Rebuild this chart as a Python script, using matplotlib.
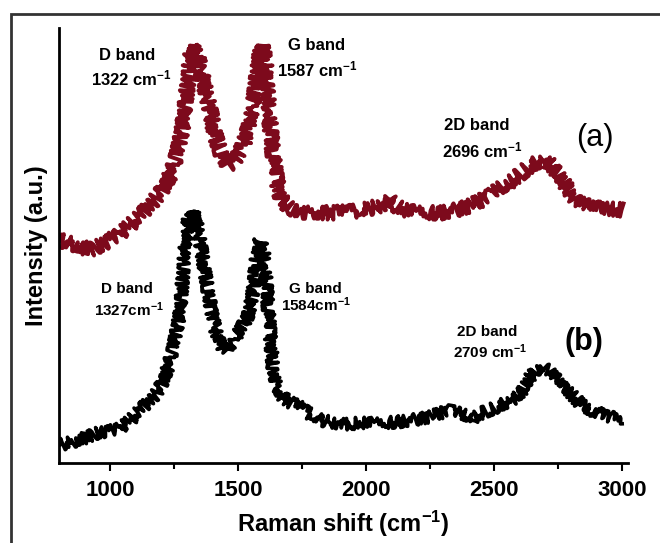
import numpy as np
import matplotlib
matplotlib.use("Agg")
import matplotlib.pyplot as plt
from matplotlib.patches import Rectangle

plt.rcParams['font.family'] = ['Liberation Sans', 'DejaVu Sans']
plt.rcParams['mathtext.fontset'] = 'custom'
plt.rcParams['mathtext.rm'] = 'Liberation Sans'
plt.rcParams['mathtext.bf'] = 'Liberation Sans:bold'
plt.rcParams['mathtext.default'] = 'bf'

# spectrum (a)
shift_a = [800, 840, 880, 920, 940, 970, 1000, 1040, 1078, 1120, 1155, 1190, 1214, 1235,
           1253, 1270, 1280, 1292, 1304, 1315, 1323, 1335, 1350, 1370, 1390, 1405, 1421,
           1440, 1460, 1480, 1500, 1520, 1538, 1552, 1566, 1580, 1593, 1605, 1616, 1630,
           1644, 1660, 1671, 1700, 1741, 1800, 1858, 1920, 1988, 2050, 2093, 2110, 2144,
           2200, 2288, 2350, 2405, 2450, 2483, 2530, 2573, 2610, 2640, 2670, 2690, 2710,
           2745, 2770, 2796, 2820, 2847, 2900, 2950, 3003]
int_a = [223, 220, 217, 213, 215, 219, 223, 230, 238, 248, 258, 268, 278, 288,
         301, 318, 333, 358, 383, 408, 418, 413, 398, 375, 353, 333, 318,
         305, 298, 301, 308, 318, 333, 353, 373, 403, 418, 403, 363, 323,
         293, 271, 263, 255, 251, 251, 250, 251, 253, 257, 263, 258, 253,
         251, 250, 253, 257, 263, 268, 276, 283, 291, 297, 301, 303, 301,
         291, 281, 271, 263, 258, 255, 254, 253]

# spectrum (b)
shift_b = [800, 850, 900, 960, 1000, 1038, 1080, 1116, 1150, 1182, 1205, 1222, 1245, 1260,
           1273, 1285, 1295, 1305, 1320, 1335, 1350, 1365, 1378, 1395, 1417, 1436, 1456,
           1480, 1507, 1525, 1538, 1550, 1558, 1570, 1584, 1598, 1612, 1625, 1636, 1655,
           1675, 1700, 1741, 1780, 1820, 1858, 1920, 1988, 2050, 2120, 2180, 2249, 2290,
           2327, 2370, 2417, 2460, 2511, 2550, 2589, 2615, 2640, 2665, 2690, 2710, 2745,
           2770, 2796, 2830, 2874, 2940, 3003]
int_b = [18, 21, 25, 31, 32, 35, 43, 53, 61, 70, 81, 93, 113, 133,
         153, 193, 223, 243, 253, 243, 223, 198, 178, 153, 126, 116, 113,
         123, 133, 141, 146, 163, 173, 203, 223, 213, 173, 128, 93, 75,
         66, 61, 56, 49, 43, 41, 39, 40, 40, 41, 43, 46, 50,
         53, 49, 45, 51, 56, 61, 66, 75, 86, 93, 96, 93, 83,
         75, 70, 61, 53, 47, 43]

fig = plt.figure(figsize=(6.6, 5.43), dpi=100)
# outer frame
fig.add_artist(Rectangle((11 / 660, -0.05), 1.1, 1 - 14 / 543 + 0.05, transform=fig.transFigure,
                         fill=False, lw=2, ec='#333333'))

ax = fig.add_axes([59 / 660, 1 - 463 / 543, (628 - 59) / 660, (463 - 28) / 543])
la, = ax.plot(shift_a, int_a, color='#7d0a1c', lw=2.8, solid_joinstyle='round')
lb, = ax.plot(shift_b, int_b, color='black', lw=2.6, solid_joinstyle='round')
# jagged rendering to mimic the detector noise
la.set_sketch_params(scale=7, length=0.4, randomness=1.5)
lb.set_sketch_params(scale=6, length=0.4, randomness=1.5)

ax.set_xlim(800, 3022)
ax.set_ylim(0, 435)
ax.set_yticks([])
for s in ['top', 'right']:
    ax.spines[s].set_visible(False)
for s in ['left', 'bottom']:
    ax.spines[s].set_linewidth(2)
ax.set_xticks([1000, 1500, 2000, 2500, 3000])
ax.set_xticks([1250, 1750, 2250, 2750], minor=True)
ax.tick_params(axis='x', which='major', length=6, width=1.5, direction='out', pad=6)
ax.tick_params(axis='x', which='minor', length=4, width=1.5, direction='out')
for t in ax.get_xticklabels():
    t.set_fontsize(16)
    t.set_fontweight('bold')

ax.set_xlabel('Raman shift (cm$^{-1}$)', fontsize=17, fontweight='bold', labelpad=6)
ax.set_ylabel('Intensity (a.u.)', fontsize=17, fontweight='bold', labelpad=8)

def lab(x, y, s, size):
    ax.text(x, y, s, fontsize=size, fontweight='bold', ha='center', va='center')

# labels for (a)
lab(1066, 463 - 55, 'D band', 12)
lab(1081, 463 - 78, '1322 cm$^{-1}$', 12)
lab(1805, 463 - 45, 'G band', 12)
lab(1810, 463 - 69, '1587 cm$^{-1}$', 12)
lab(2433, 463 - 125, '2D band', 12)
lab(2452, 463 - 150, '2696 cm$^{-1}$', 12)
ax.text(2894, 463 - 138, '(a)', fontsize=22, ha='center', va='center')

# labels for (b)
lab(1066, 463 - 289, 'D band', 11)
lab(1073, 463 - 310, '1327cm$^{-1}$', 11)
lab(1800, 463 - 289, 'G band', 11)
lab(1805, 463 - 305, '1584cm$^{-1}$', 11)
lab(2472, 463 - 332, '2D band', 11)
lab(2484, 463 - 352, '2709 cm$^{-1}$', 11)
ax.text(2851, 463 - 342, '(b)', fontsize=22, fontweight='bold', ha='center', va='center')

fig.savefig('out.png', dpi=100)
